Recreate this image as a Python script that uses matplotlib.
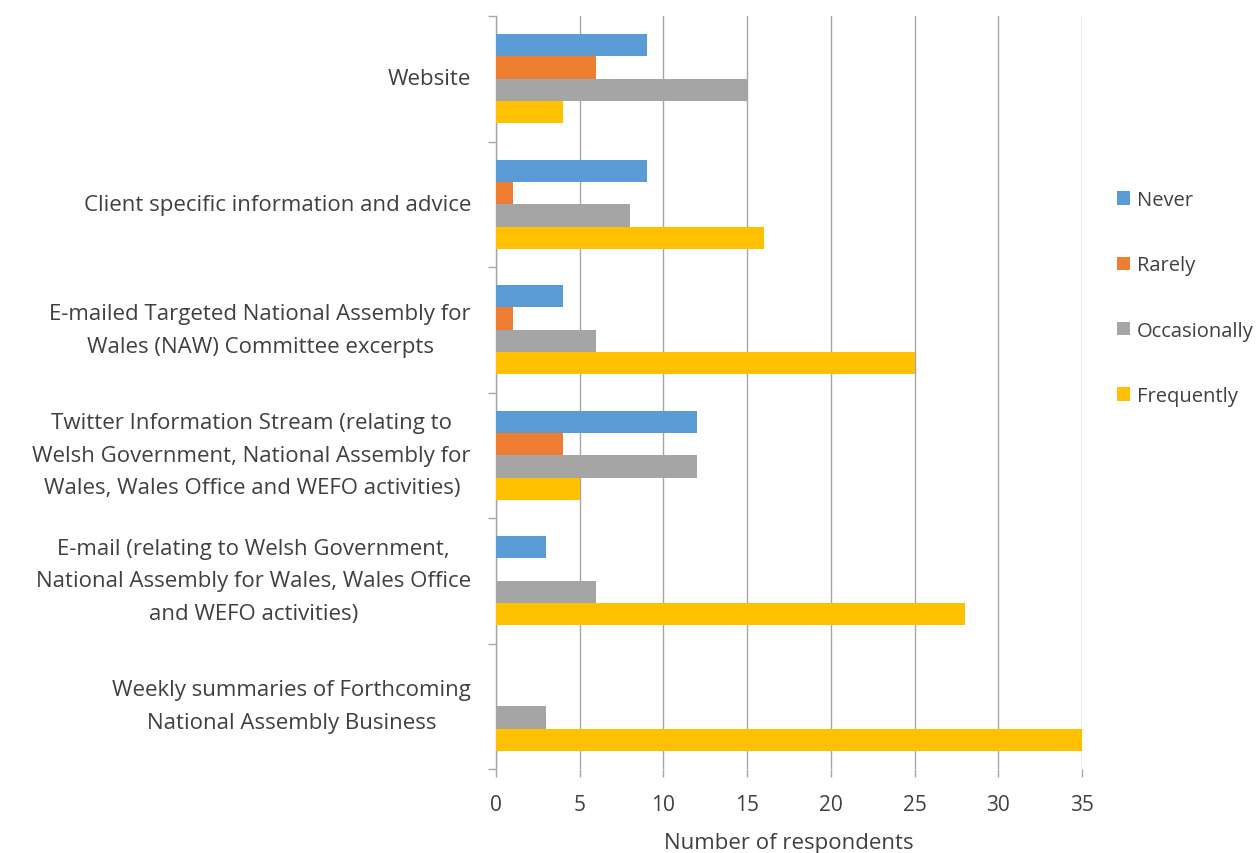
import matplotlib
matplotlib.use("Agg")
import matplotlib.pyplot as plt
import numpy as np

categories = [
    "Website",
    "Client specific information and advice",
    "E-mailed Targeted National Assembly for\nWales (NAW) Committee excerpts",
    "Twitter Information Stream (relating to\nWelsh Government, National Assembly for\nWales, Wales Office and WEFO activities)",
    "E-mail (relating to Welsh Government,\nNational Assembly for Wales, Wales Office\nand WEFO activities)",
    "Weekly summaries of Forthcoming\nNational Assembly Business",
]
series_names = ["Never", "Rarely", "Occasionally", "Frequently"]
never = [9, 9, 4, 12, 3, 0]
rarely = [6, 1, 1, 4, 0, 0]
occasionally = [15, 8, 6, 12, 6, 3]
frequently = [4, 16, 25, 5, 28, 35]
x_ticks = [0, 5, 10, 15, 20, 25, 30, 35]
x_label = "Number of respondents"

colors = ["#5B9BD5", "#ED7D31", "#A5A5A5", "#FFC000"]
text_color = "#404040"
grid_color = "#A6A6A6"

plt.rcParams['font.family'] = ['Open Sans', 'DejaVu Sans']

fig = plt.figure(figsize=(12.58, 8.54), dpi=100)
ax = fig.add_axes([496/1258, 1-770/854, (1082-496)/1258, (770-17)/854])

n = len(categories)
pos = np.arange(n)
h = 0.178
all_series = [never, rarely, occasionally, frequently]
for i, (vals, name, c) in enumerate(zip(all_series, series_names, colors)):
    ax.barh(pos + (i - 1.5) * h, vals, height=h, color=c, label=name, edgecolor='none', zorder=3)

ax.set_ylim(n - 0.5, -0.5)
ax.set_xlim(0, 35)
ax.set_xticks(x_ticks)
ax.set_xticklabels([str(t) for t in x_ticks])
ax.xaxis.grid(True, color=grid_color, linewidth=1.0, zorder=0)
ax.set_axisbelow(True)

ax.set_yticks(pos)
ax.set_yticklabels(categories, multialignment='center', linespacing=1.72, va='center')
ax.set_yticks(np.arange(n + 1) - 0.5, minor=True)
ax.tick_params(axis='y', which='major', length=0, pad=18, labelsize=16, labelcolor=text_color)
ax.tick_params(axis='y', which='minor', length=6, width=1.0, color=grid_color, direction='out')
ax.tick_params(axis='x', which='major', length=6, width=1.0, color=grid_color, direction='out',
               labelsize=15, labelcolor=text_color, pad=12)

for s in ['top', 'right', 'bottom']:
    ax.spines[s].set_visible(False)
ax.spines['left'].set_color(grid_color)
ax.spines['left'].set_linewidth(1.0)

ax.set_xlabel(x_label, fontsize=16, color=text_color, labelpad=12)

leg = fig.legend(loc='center left', bbox_to_anchor=(1107/1258, 1-299/854), frameon=False,
                 fontsize=14.5, labelspacing=2.25, handlelength=0.65, handleheight=0.65,
                 handletextpad=0.35, borderpad=0)
for t in leg.get_texts():
    t.set_color(text_color)

fig.savefig("out.png", dpi=100)
